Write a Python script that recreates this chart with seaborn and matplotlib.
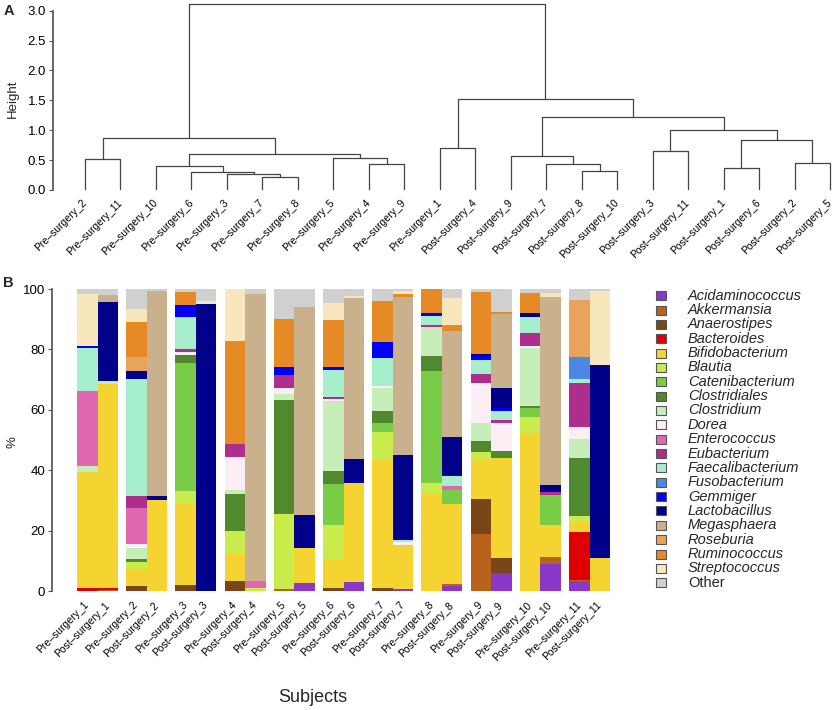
import numpy as np
import pandas as pd
import matplotlib
matplotlib.use("Agg")
import matplotlib.pyplot as plt
import seaborn as sns
from matplotlib.patches import Rectangle

sns.set_theme(style="ticks")
plt.rcParams["font.family"] = ["Liberation Sans", "DejaVu Sans"]

# ---------------- data ----------------
pairs = list(range(1, 12))
subjects = []
for p in pairs:
    subjects += [f"Pre–surgery_{p}", f"Post–surgery_{p}"]

genera = ["Acidaminococcus", "Akkermansia", "Anaerostipes", "Bacteroides",
          "Bifidobacterium", "Blautia", "Catenibacterium", "Clostridiales",
          "Clostridium", "Dorea", "Enterococcus", "Eubacterium",
          "Faecalibacterium", "Fusobacterium", "Gemmiger", "Lactobacillus",
          "Megasphaera", "Roseburia", "Ruminococcus", "Streptococcus", "Other"]

colors = ["#8A38C9", "#B8621C", "#7A4517", "#DE0000", "#F5D330", "#C9EC4C",
          "#79CC45", "#50892E", "#C7EDB9", "#FCEEF5", "#E068B1", "#AD2E8C",
          "#A7EFCC", "#4C87E6", "#0000F2", "#00008A", "#C9B18E", "#E8A35C",
          "#E68A25", "#F8E6BD", "#D0D0D0"]

# subject order: Pre1, Post1, Pre2, Post2, ..., Pre11, Post11
Acidaminococcus = [0, 0, 0, 0, 0, 0, 0, 0, 0, 2.5, 0, 3.0, 0, 0.5, 0, 1.7, 0, 6.1, 0, 8.8, 3.3, 0]
Akkermansia = [0, 0.4, 0, 0, 0, 0, 0, 0, 0.8, 0, 0, 0, 0, 0, 0, 0.5, 18.8, 0, 0, 2.5, 0.5, 0]
Anaerostipes = [0, 0, 1.6, 0, 1.9, 0, 3.3, 0, 0, 0, 1.1, 0, 1.1, 0, 0, 0, 11.6, 4.7, 0, 0, 0, 0]
Bacteroides = [1.0, 0.6, 0, 0, 0, 0, 0, 0, 0, 0, 0, 0, 0, 0, 0, 0, 0, 0, 0, 0, 15.7, 0]
Bifidobacterium = [38.4, 67.4, 5.7, 30.0, 27.0, 0, 9.0, 0, 0, 11.8, 9.4, 32.7, 42.2, 14.6, 32.6, 26.7, 13.2, 33.3, 52.4, 10.7, 3.6, 11.0]
Blautia = [0, 0, 2.2, 0, 4.2, 0, 7.5, 1.1, 24.6, 0, 11.4, 0, 9.4, 0, 3.0, 0, 2.5, 0, 5.3, 0, 1.9, 0]
Catenibacterium = [0, 0, 0, 0, 42.3, 0, 0, 0, 0, 0, 13.5, 0, 2.9, 0, 37.3, 4.7, 0, 0, 2.9, 9.9, 0, 0]
Clostridiales = [0, 0, 1.1, 0, 2.6, 0, 12.4, 0, 37.7, 0, 4.4, 0, 4.1, 0, 4.9, 0, 3.5, 2.2, 0.7, 0, 18.9, 0]
Clostridium = [2.0, 1.3, 3.6, 0, 0, 0, 1.4, 0, 2.0, 0, 23.0, 0, 7.5, 0, 9.5, 0, 6.0, 0, 19.1, 0, 6.6, 0]
Dorea = [0, 0, 1.4, 0, 1.1, 0, 10.8, 0, 2.0, 0, 0.7, 0, 0.8, 1.0, 0, 0, 13.2, 9.4, 0.8, 0, 3.8, 0]
Enterococcus = [24.8, 0, 11.8, 0, 0, 0, 0, 2.2, 0, 0, 0, 0, 0, 0, 0, 1.1, 0, 0, 0, 0, 0, 0]
Eubacterium = [0, 0, 4.0, 0, 1.2, 0, 4.4, 0, 4.4, 0, 0.8, 0, 0, 0, 0.8, 0, 3.1, 0.8, 4.2, 0.8, 14.7, 0]
Faecalibacterium = [14.2, 0, 38.7, 0, 10.4, 0, 0, 0, 0, 0, 8.9, 0, 9.0, 0.7, 3.0, 3.3, 4.6, 3.1, 5.4, 0, 1.1, 0]
Fusobacterium = [0, 0, 0, 0, 0, 0, 0, 0, 0, 0, 0, 0, 0, 0, 0, 0, 0, 0, 0, 0, 7.5, 0]
Gemmiger = [0.7, 0, 0, 0, 3.9, 0, 0, 0, 2.6, 0, 1.1, 0, 5.6, 0.5, 0.9, 0.5, 1.3, 1.1, 0, 0, 0, 0]
Lactobacillus = [0, 26.0, 2.8, 1.3, 0, 95.0, 0, 0, 0, 11.0, 0, 8.0, 0, 27.6, 0, 12.4, 0.7, 6.4, 1.4, 2.3, 0, 64.0]
Megasphaera = [0, 2.3, 0, 68.2, 0, 0, 0, 95.0, 0, 68.8, 0, 53.4, 0, 52.6, 0, 35.1, 0, 24.6, 0, 62.3, 0, 0]
Roseburia = [0, 0, 4.6, 0, 0, 0, 0, 0, 0, 0, 0, 0, 0, 0, 0, 0, 0, 0, 0, 0, 18.8, 0]
Ruminococcus = [0, 0, 11.6, 0, 4.4, 0, 34.1, 0, 16.0, 0, 15.3, 0, 13.5, 0.7, 8.0, 2.0, 20.6, 0.7, 6.6, 0, 0, 0]
Streptococcus = [17.2, 0, 4.4, 0, 0, 1.1, 17.1, 0, 0, 0, 5.8, 0.7, 0, 1.3, 0, 9.0, 0, 0, 0, 1.5, 0, 24.3]
Other = [1.7, 2.0, 6.5, 0.5, 1.0, 3.9, 0, 1.7, 9.9, 5.9, 4.6, 2.2, 3.9, 0.5, 0, 3.0, 0.9, 7.6, 1.2, 1.2, 3.6, 0.7]

abund = [Acidaminococcus, Akkermansia, Anaerostipes, Bacteroides, Bifidobacterium,
         Blautia, Catenibacterium, Clostridiales, Clostridium, Dorea, Enterococcus,
         Eubacterium, Faecalibacterium, Fusobacterium, Gemmiger, Lactobacillus,
         Megasphaera, Roseburia, Ruminococcus, Streptococcus, Other]

# dendrogram merges (child a, child b, height); "mK" refers to merge K
merge_a = ["Pre–surgery_7", "Pre–surgery_3", "Pre–surgery_6", "Post–surgery_8",
           "Post–surgery_1", "Pre–surgery_10", "Pre–surgery_4", "Post–surgery_7",
           "Post–surgery_2", "Pre–surgery_2", "Pre–surgery_5", "Post–surgery_9",
           "m5", "Post–surgery_3", "Pre–surgery_1", "m4", "m9", "m13", "m11",
           "m14", "m16"]
merge_b = ["Pre–surgery_8", "m0", "m1", "Post–surgery_10", "Post–surgery_6",
           "m2", "Pre–surgery_9", "m3", "Post–surgery_5", "Pre–surgery_11",
           "m6", "m7", "m10", "Post–surgery_11", "Post–surgery_4", "m8", "m12",
           "m15", "m17", "m18", "m19"]
merge_h = [0.22, 0.26, 0.30, 0.31, 0.36, 0.40, 0.43, 0.43, 0.45, 0.52, 0.535,
           0.57, 0.60, 0.66, 0.71, 0.83, 0.87, 1.01, 1.22, 1.52, 3.12]

# ---------------- layout helpers ----------------
W, H = 833, 710
def rect(l, t, r, b):
    return [l / W, 1 - b / H, (r - l) / W, (b - t) / H]

fig = plt.figure(figsize=(W / 100, H / 100), dpi=100)
fig.patch.set_facecolor("white")
axis_col = "#555555"

# ---------------- panel A: dendrogram ----------------
axA = fig.add_axes(rect(53, 2, 833, 190))
axA.set_facecolor("white")

order = []
def walk(n):
    if n.startswith("m"):
        k = int(n[1:])
        walk(merge_a[k]); walk(merge_b[k])
    else:
        order.append(n)
walk("m%d" % (len(merge_h) - 1))
leaf_x = {n: i for i, n in enumerate(order)}

node = {}
def info(n):
    if not n.startswith("m"):
        return leaf_x[n], 0.0
    return node[n]
for k in range(len(merge_h)):
    xa, ha = info(merge_a[k])
    xb, hb = info(merge_b[k])
    h = merge_h[k]
    axA.plot([xa, xa, xb, xb], [ha, h, h, hb], color="#444444", lw=0.9,
             solid_capstyle="butt")
    node["m%d" % k] = ((xa + xb) / 2, h)

axA.set_xlim(-0.902, 21.08)
axA.set_ylim(0, 3.146)
for s in ["top", "right", "bottom"]:
    axA.spines[s].set_visible(False)
axA.spines["left"].set_bounds(0, 3)
axA.spines["left"].set_color(axis_col)
axA.set_yticks([0, 0.5, 1.0, 1.5, 2.0, 2.5, 3.0])
axA.set_yticklabels(["0.0", "0.5", "1.0", "1.5", "2.0", "2.5", "3.0"], fontsize=9.5)
axA.set_xticks(range(len(order)))
axA.set_xticklabels(order, rotation=45, ha="right", va="center",
                    rotation_mode="anchor", fontsize=7.5)
axA.tick_params(axis="x", length=0, pad=8, colors="black")
axA.tick_params(axis="y", length=3, width=0.8, pad=2, color=axis_col, labelcolor="black")
axA.grid(False)

# ---------------- panel B: stacked bars ----------------
axB = fig.add_axes(rect(52, 286, 640, 591))
axB.set_facecolor("white")
positions = []
for i in range(len(pairs)):
    positions += [i * 2.4, i * 2.4 + 1]
positions = np.round(np.array(positions), 6)

cum = np.cumsum(np.array(abund, dtype=float), axis=0)
for k in range(len(genera) - 1, -1, -1):
    df = pd.DataFrame({"pos": positions, "val": cum[k]})
    sns.barplot(data=df, x="pos", y="val", orient="x", native_scale=True,
                width=1.0, color=colors[k], saturation=1, errorbar=None,
                linewidth=0, ax=axB)

axB.set_xlim(-1.72, 26.96)
axB.set_ylim(0, 101)
for s in ["top", "right", "bottom"]:
    axB.spines[s].set_visible(False)
axB.spines["left"].set_bounds(0, 100)
axB.spines["left"].set_color(axis_col)
axB.set_yticks([0, 20, 40, 60, 80, 100])
axB.set_yticklabels(["0", "20", "40", "60", "80", "100"], fontsize=9.5)
axB.set_xticks(positions)
axB.set_xticklabels(subjects, rotation=45, ha="right", va="center",
                    rotation_mode="anchor", fontsize=7.5)
axB.tick_params(axis="x", length=0, pad=9, colors="black")
axB.tick_params(axis="y", length=3, width=0.8, pad=2, color=axis_col, labelcolor="black")
axB.set_xlabel("")
axB.set_ylabel("")
axB.grid(False)

# ---------------- legend ----------------
axL = fig.add_axes(rect(645, 285, 833, 595))
axL.set_xlim(645, 833)
axL.set_ylim(595, 285)
axL.axis("off")
y0, dy = 295.7, 14.35
for i, (g, c) in enumerate(zip(genera, colors)):
    y = y0 + i * dy
    axL.add_patch(Rectangle((656, y - 4.5), 9.5, 9, facecolor=c,
                            edgecolor="#555555", lw=0.8))
    axL.text(688, y, g, fontsize=10.5, va="center", ha="left",
             style="normal" if g == "Other" else "italic")

# ---------------- texts ----------------
fig.text(4 / W, 1 - 11 / H, "A", fontsize=10.5, fontweight="bold", va="center", ha="left")
fig.text(3 / W, 1 - 283 / H, "B", fontsize=10.5, fontweight="bold", va="center", ha="left")
fig.text(13 / W, 1 - 99 / H, "Height", fontsize=9.5, rotation=90, va="center", ha="center")
fig.text(12 / W, 1 - 442 / H, "%", fontsize=9.5, rotation=90, va="center", ha="center")
fig.text(313 / W, 1 - 698 / H, "Subjects", fontsize=13, va="center", ha="center")

fig.savefig("out.png", dpi=100, facecolor="white")
